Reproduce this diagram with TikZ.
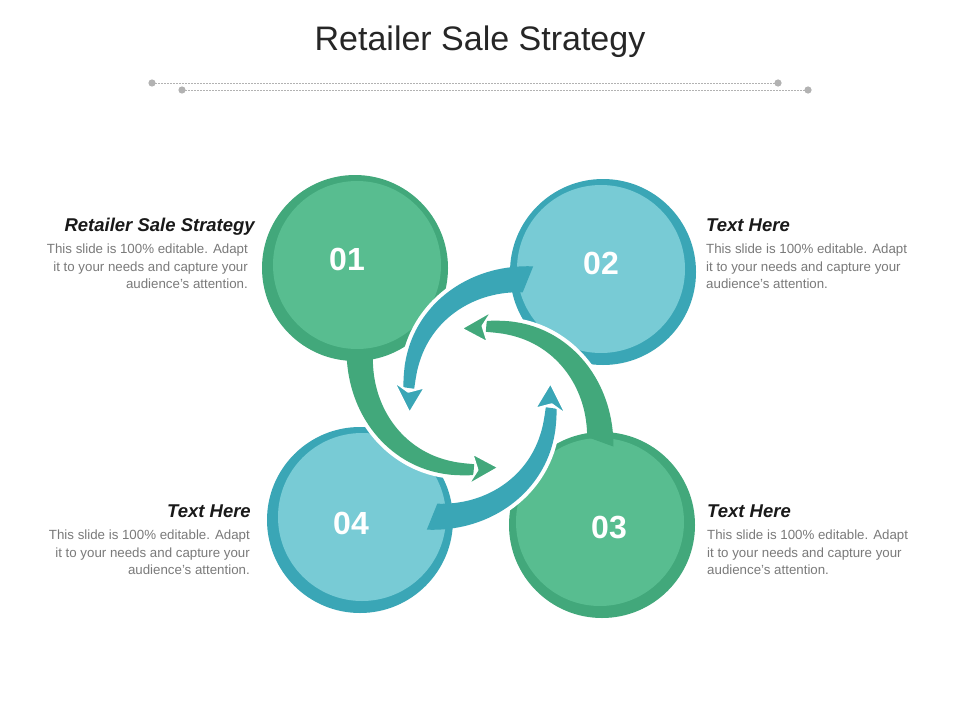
\documentclass[tikz,border=0pt]{standalone}
\usepackage{fontspec}
\setmainfont{Liberation Sans}
\definecolor{gdark}{HTML}{42A87B}
\definecolor{glight}{HTML}{58BD90}
\definecolor{bdark}{HTML}{3AA6B6}
\definecolor{blight}{HTML}{78CBD5}
\definecolor{bodyc}{HTML}{7A7A7A}
\newcommand\band[3]{%
 \begin{scope}[shift={(480,398)}]
 \draw[white,line width=8pt] plot[domain={#1-0.15*(#1-#2)}:#2,samples=40,variable=\t] (\t:{rc(uu(\t,#1,#2))+ww(uu(\t,#1,#2))/2});
 \draw[white,line width=8pt] plot[domain={#1-0.15*(#1-#2)}:#2,samples=40,variable=\t] (\t:{rc(uu(\t,#1,#2))-ww(uu(\t,#1,#2))/2});
 \fill[#3] plot[domain=#1:#2,samples=50,variable=\t] (\t:{rc(uu(\t,#1,#2))+ww(uu(\t,#1,#2))/2})
   -- plot[domain=#2:#1,samples=50,variable=\t] (\t:{rc(uu(\t,#1,#2))-ww(uu(\t,#1,#2))/2}) -- cycle;
 \filldraw[#3,draw=white,line width=2pt,line join=round] ({#2-20}:72) -- ({#2+3}:88) -- ({#2-3}:72) -- ({#2+3}:56) -- cycle;
 \end{scope}
}
\begin{document}
\begin{tikzpicture}[x=1pt,y=-1pt,
  declare function={uu(\t,\s,\e)=(\s-\t)/(\s-\e); rc(\u)=72+56*pow(max(1-\u,0.0001),1.5); ww(\u)=11+17*(1-\u);},
  ring/.style={circle,minimum size=186pt,inner sep=0pt},
  disc/.style={circle,minimum size=168pt,inner sep=0pt,text=white,font=\bfseries\fontsize{32}{32}\selectfont},
  head/.style={font=\bfseries\itshape\fontsize{18.5}{20}\selectfont,text=black!90},
  body/.style={font=\fontsize{13.3}{17.5}\selectfont,text=bodyc,inner sep=0pt}]
\useasboundingbox[fill=white] (0,0) rectangle (960,720);
\node[font=\fontsize{34}{36}\selectfont,text=black!85] (title) at (480,42) {Retailer Sale Strategy};
\coordinate (l1a) at (152,83); \coordinate (l1b) at (778,83);
\coordinate (l2a) at (182,90); \coordinate (l2b) at (808,90);
\draw[black!30,dash pattern=on 2pt off 1pt] (l1a) -- (l1b);
\draw[black!30,dash pattern=on 2pt off 1pt] (l2a) -- (l2b);
\foreach \c in {l1a,l1b,l2a,l2b} \fill[black!30] (\c) circle (3.6);
% circles
\node[ring,fill=gdark] (r1) at (355,268) {};
\node[ring,fill=bdark] (r2) at (603,272) {};
\node[ring,fill=gdark] (r3) at (602,525) {};
\node[ring,fill=bdark] (r4) at (360,520) {};
\node[disc,fill=glight] (c1) at (357,265) {};
\node[disc,fill=blight] (c2) at (601,269) {};
\node[disc,fill=glight] (c3) at (600,522) {};
\node[disc,fill=blight] (c4) at (362,517) {};
% bands
\band{200}{95}{gdark}
\band{292}{188}{bdark}
\band{20}{-85}{gdark}
\band{112}{8}{bdark}
% numbers
\node[disc] (n1) at (347,259) {01};
\node[disc] (n2) at (601,263) {02};
\node[disc] (n3) at (609,527) {03};
\node[disc] (n4) at (351,523) {04};
% texts
\node[head,anchor=base east,inner sep=0pt] (h1) at (255,231) {Retailer Sale Strategy};
\node[body,anchor=north east,align=right] (t1) at (248,244) {This slide is 100\% editable. Adapt\\it to your needs and capture your\\audience's attention.};
\node[head,anchor=base west,inner sep=0pt] (h2) at (706,231) {Text Here};
\node[body,anchor=north west,align=left] (t2) at (706,244) {This slide is 100\% editable. Adapt\\it to your needs and capture your\\audience's attention.};
\node[head,anchor=base east,inner sep=0pt] (h4) at (251,517) {Text Here};
\node[body,anchor=north east,align=right] (t4) at (250,530) {This slide is 100\% editable. Adapt\\it to your needs and capture your\\audience's attention.};
\node[head,anchor=base west,inner sep=0pt] (h3) at (707,517) {Text Here};
\node[body,anchor=north west,align=left] (t3) at (707,530) {This slide is 100\% editable. Adapt\\it to your needs and capture your\\audience's attention.};
\end{tikzpicture}
\end{document}
